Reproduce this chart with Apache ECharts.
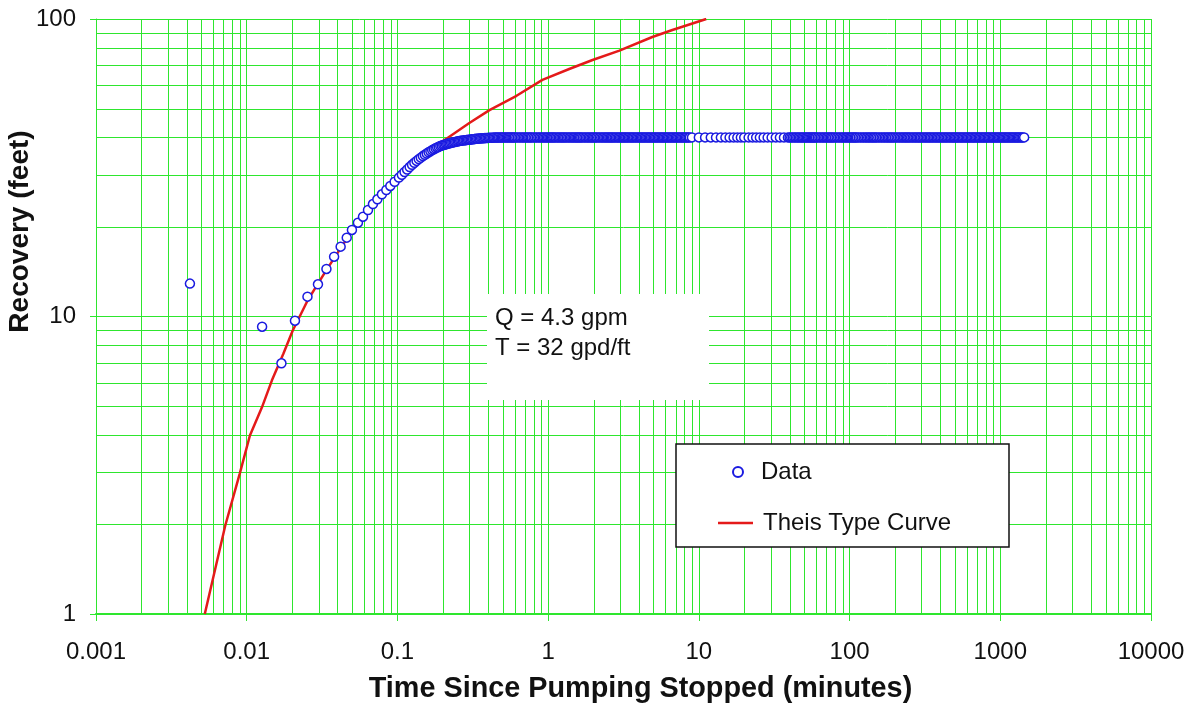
<!DOCTYPE html>
<html>
<head>
<meta charset="utf-8">
<script src="https://cdn.jsdelivr.net/npm/echarts@6/dist/echarts.min.js"></script>
<style>
  html, body { margin: 0; padding: 0; background: #ffffff; }
  #chart { width: 1201px; height: 708px; }
</style>
</head>
<body>
<div id="chart"></div>
<script>
// Axis tick labels (one per decade)
const xTickLabels = ['0.001', '0.01', '0.1', '1', '10', '100', '1000', '10000'];
const yTickLabels = ['1', '10', '100'];

// Recovery record: [minutes since pumping stopped, recovery (ft)]
const recoveryEarly = [
  [0.0042, 12.9], [0.01265, 9.24], [0.0170, 6.96], [0.0209, 9.68], [0.0253, 11.66],
  [0.0297, 12.83], [0.0338, 14.45], [0.0380, 15.89], [0.0420, 17.17], [0.0461, 18.41],
  [0.0499, 19.54], [0.0547, 20.67], [0.0591, 21.65], [0.0638, 22.8], [0.0688, 23.88],
  [0.0736, 24.77], [0.0789, 25.75], [0.0844, 26.62], [0.0897, 27.47], [0.0958, 28.38]
];
const recoveryRise = [
  [0.1023, 29.3], [0.107, 29.95], [0.1115, 30.6], [0.116, 31.2], [0.1205, 31.8],
  [0.125, 32.35], [0.1295, 32.85], [0.134, 33.35], [0.1385, 33.8], [0.143, 34.2],
  [0.1475, 34.6], [0.152, 34.95], [0.1565, 35.3], [0.161, 35.65], [0.1655, 35.95],
  [0.170, 36.25], [0.1745, 36.5], [0.179, 36.75], [0.1835, 37.0], [0.188, 37.2],
  [0.1925, 37.4], [0.197, 37.55], [0.2015, 37.7], [0.2055, 37.8], [0.21, 37.95],
  [0.214, 38.05], [0.218, 38.15], [0.222, 38.25], [0.227, 38.35], [0.2315, 38.45],
  [0.236, 38.55], [0.241, 38.6], [0.246, 38.7], [0.251, 38.8], [0.256, 38.85],
  [0.261, 38.95], [0.266, 39.0], [0.272, 39.05], [0.277, 39.1], [0.283, 39.15],
  [0.288, 39.2], [0.294, 39.25], [0.3, 39.3], [0.306, 39.35], [0.312, 39.4],
  [0.318, 39.45], [0.325, 39.5], [0.331, 39.55], [0.338, 39.58], [0.345, 39.62],
  [0.352, 39.66], [0.359, 39.7], [0.366, 39.73], [0.373, 39.76], [0.381, 39.79],
  [0.388, 39.82], [0.396, 39.84], [0.404, 39.86], [0.412, 39.88], [0.42, 39.9],
  [0.429, 39.92], [0.437, 39.94], [0.446, 39.95], [0.455, 39.97], [0.464, 39.98],
  [0.473, 39.99], [0.483, 40], [0.492, 40]
];
const recoveryPlateau = [
  [0.5,40],[0.51,40],[0.52,40],[0.53,40],[0.54,40],[0.55,40],[0.56,40],[0.57,40],[0.58,40],[0.59,40],
  [0.6,40],[0.615,40],[0.63,40],[0.645,40],[0.66,40],[0.675,40],[0.69,40],[0.705,40],[0.72,40],[0.735,40],
  [0.75,40],[0.765,40],[0.78,40],[0.8,40],[0.82,40],[0.84,40],[0.86,40],[0.88,40],[0.9,40],[0.92,40],
  [0.94,40],[0.96,40],[0.98,40],[1.0,40],[1.02,40],[1.04,40],[1.06,40],[1.08,40],[1.1,40],[1.125,40],
  [1.15,40],[1.175,40],[1.2,40],[1.225,40],[1.25,40],[1.275,40],[1.3,40],[1.33,40],[1.36,40],[1.39,40],
  [1.42,40],[1.45,40],[1.48,40],[1.51,40],[1.54,40],[1.57,40],[1.6,40],[1.63,40],[1.66,40],[1.7,40],
  [1.74,40],[1.78,40],[1.82,40],[1.86,40],[1.9,40],[1.94,40],[1.98,40],[2.02,40],[2.06,40],[2.1,40],
  [2.15,40],[2.2,40],[2.25,40],[2.3,40],[2.35,40],[2.4,40],[2.45,40],[2.5,40],[2.55,40],[2.6,40],
  [2.65,40],[2.7,40],[2.76,40],[2.82,40],[2.88,40],[2.94,40],[3.0,40],[3.06,40],[3.12,40],[3.18,40],
  [3.24,40],[3.3,40],[3.37,40],[3.44,40],[3.51,40],[3.58,40],[3.65,40],[3.72,40],[3.8,40],[3.88,40],
  [3.96,40],[4.04,40],[4.12,40],[4.2,40],[4.28,40],[4.37,40],[4.46,40],[4.55,40],[4.64,40],[4.73,40],
  [4.82,40],[4.92,40],[5.02,40],[5.12,40],[5.22,40],[5.33,40],[5.44,40],[5.55,40],[5.66,40],[5.77,40],
  [5.88,40],[6.0,40],[6.12,40],[6.24,40],[6.36,40],[6.49,40],[6.62,40],[6.75,40],[6.88,40],[7.02,40],
  [7.16,40],[7.3,40],[7.45,40],[7.6,40],[7.75,40],[7.9,40],[8.06,40],[8.22,40],[8.38,40],[8.55,40],
  [8.72,40]
];
const recoveryMinutely = [
  [9,40],[10,40],[11,40],[12,40],[13,40],[14,40],[15,40],[16,40],[17,40],[18,40],[19,40],[20,40],
  [21.4,40],[22.7,40],[24,40],[25.4,40],[26.9,40],[28.6,40],[30.4,40],[32.4,40],[34.5,40],[36.7,40],[39,40]
];
const recoveryTail = [
  [40,40],[41,40],[42,40],[43,40],[44,40],[45,40],[46,40],[47,40],[48,40],[49,40],
  [50,40],[51,40],[52,40],[53,40],[54,40],[55,40],[56,40],[57,40],[58,40],[59,40],
  [60,40],[61.5,40],[63,40],[64.5,40],[66,40],[67.5,40],[69,40],[70.5,40],[72,40],[73.5,40],
  [75,40],[76.5,40],[78,40],[80,40],[82,40],[84,40],[86,40],[88,40],[90,40],[92,40],
  [94,40],[96,40],[98,40],[100,40],[102,40],[104,40],[106,40],[108,40],[110,40],[112,40],
  [115,40],[118,40],[121,40],[124,40],[127,40],[130,40],[133,40],[136,40],[139,40],[142,40],
  [145,40],[148,40],[151,40],[155,40],[159,40],[163,40],[167,40],[171,40],[175,40],[179,40],
  [183,40],[187,40],[191,40],[195,40],[200,40],[205,40],[210,40],[215,40],[220,40],[225,40],
  [230,40],[235,40],[240,40],[245,40],[250,40],[256,40],[262,40],[268,40],[274,40],[280,40],
  [286,40],[292,40],[298,40],[305,40],[312,40],[319,40],[326,40],[333,40],[340,40],[347,40],
  [355,40],[363,40],[371,40],[379,40],[387,40],[395,40],[404,40],[413,40],[422,40],[431,40],
  [440,40],[450,40],[460,40],[470,40],[480,40],[490,40],[500,40],[510,40],[520,40],[531,40],
  [542,40],[553,40],[564,40],[576,40],[588,40],[600,40],[612,40],[624,40],[637,40],[650,40],
  [663,40],[676,40],[690,40],[704,40],[718,40],[732,40],[747,40],[762,40],[777,40],[792,40],
  [808,40],[824,40],[840,40],[857,40],[874,40],[891,40],[908,40],[926,40],[944,40],[962,40],
  [981,40],[1000,40],[1020,40],[1040,40],[1060,40],[1080,40],[1100,40],[1122,40],[1144,40],[1166,40],
  [1188,40],[1210,40],[1234,40],[1258,40],[1282,40],[1306,40],[1330,40],[1356,40],[1382,40],[1408,40],
  [1440,40]
];

// Matched Theis type curve: [minutes, recovery (ft)]
const theisCurve = [
  [0.00527, 1.0], [0.0072, 1.98], [0.009, 2.97], [0.0105, 3.98], [0.0126, 4.94],
  [0.0147, 6.1], [0.0175, 7.5], [0.0202, 8.97], [0.0253, 11.3], [0.034, 14.4],
  [0.05, 19.4], [0.07, 24.4], [0.1, 29.8], [0.15, 35.6], [0.215, 39.8],
  [0.3, 44.7], [0.408, 49.4], [0.617, 55.2], [0.916, 62.4], [1.38, 67.9],
  [1.97, 72.8], [2.97, 78.3], [4.91, 87.0], [6.67, 91.8], [11.2, 100]
];

// Annotation text
const annotationLines = ['Q = 4.3 gpm', 'T = 32 gpd/ft'];

const GRID_GREEN = '#2ee62e';
const FONT = '"Liberation Sans", Arial, sans-serif';

// Minor log gridline positions (2..9 within each decade)
const minorXValues = [];
for (let k = -3; k <= 3; k++) for (let m = 2; m <= 9; m++) minorXValues.push([m * Math.pow(10, k), 1]);
const minorYValues = [];
for (let k = 0; k <= 1; k++) for (let m = 2; m <= 9; m++) minorYValues.push([0.001, m * Math.pow(10, k)]);

const recoveryData = recoveryEarly.concat(recoveryRise, recoveryPlateau, recoveryMinutely, recoveryTail);

const crisp = v => Math.round(v) + 0.5;

const chart = echarts.init(document.getElementById('chart'), null, { renderer: 'canvas' });
chart.setOption({
  animation: false,
  backgroundColor: '#ffffff',
  textStyle: { fontFamily: FONT },
  grid: { left: 96, right: 50, top: 19, bottom: 94, containLabel: false, outerBoundsMode: 'none' },
  xAxis: {
    type: 'log', logBase: 10, min: 0.001, max: 10000,
    name: 'Time Since Pumping Stopped (minutes)',
    nameLocation: 'middle', nameGap: 61, nameMoveOverlap: false,
    nameTextStyle: { fontSize: 28.8, fontWeight: 'bold', color: '#111', fontFamily: FONT, padding: [0, 0, 0, 34] },
    axisLine: { show: true, onZero: false, lineStyle: { color: GRID_GREEN, width: 2 } },
    axisTick: { show: true, length: 7, lineStyle: { color: GRID_GREEN, width: 1 } },
    axisLabel: {
      margin: 26, fontSize: 24, color: '#111', fontFamily: FONT,
      formatter: v => xTickLabels[Math.round(Math.log10(v)) + 3]
    },
    splitLine: { show: true, lineStyle: { color: GRID_GREEN, width: 1 } }
  },
  yAxis: {
    type: 'log', logBase: 10, min: 1, max: 100,
    name: 'Recovery (feet)',
    nameLocation: 'middle', nameGap: 62, nameRotate: 90, nameMoveOverlap: false,
    nameTextStyle: { fontSize: 28, fontWeight: 'bold', color: '#111', fontFamily: FONT, padding: [0, 0, 0, 170] },
    axisLine: { show: true, onZero: false, lineStyle: { color: GRID_GREEN, width: 1 } },
    axisTick: { show: true, length: 6, lineStyle: { color: GRID_GREEN, width: 1 } },
    axisLabel: {
      margin: 20, fontSize: 24, color: '#111', fontFamily: FONT,
      formatter: v => yTickLabels[Math.round(Math.log10(v))]
    },
    splitLine: { show: true, lineStyle: { color: GRID_GREEN, width: 1 } }
  },
  legend: [
    {
      data: ['Data'], left: 732, top: 460, padding: 0,
      itemWidth: 10, itemHeight: 10, z: 10,
      textStyle: { fontSize: 24, color: '#111', fontFamily: FONT, padding: [0, 0, 0, 13] }
    },
    {
      data: [{ name: 'Theis Type Curve', icon: 'rect' }], left: 718, top: 511, padding: 0,
      itemWidth: 35, itemHeight: 2.5, z: 10,
      textStyle: { fontSize: 24, color: '#111', fontFamily: FONT, padding: [0, 0, 0, 5] }
    }
  ],
  graphic: [
    {
      type: 'rect', z: 5, silent: true,
      shape: { x: 676, y: 444, width: 333, height: 103 },
      style: { fill: '#ffffff', stroke: '#111111', lineWidth: 1.5 }
    },
    {
      type: 'rect', z: 5, silent: true,
      shape: { x: 487, y: 294, width: 222, height: 106 },
      style: { fill: '#ffffff', stroke: null }
    },
    {
      type: 'text', z: 6, silent: true, left: 495, top: 306,
      style: { text: annotationLines[0], fontSize: 24, fill: '#111', fontFamily: FONT }
    },
    {
      type: 'text', z: 6, silent: true, left: 495, top: 336,
      style: { text: annotationLines[1], fontSize: 24, fill: '#111', fontFamily: FONT }
    }
  ],
  series: [
    {
      name: 'minor-x', type: 'custom', silent: true, z: 1, clip: true,
      data: minorXValues, encode: { x: 0, y: 1 },
      renderItem: (params, api) => {
        const v = api.value(0);
        const p0 = api.coord([v, 1]);
        const p1 = api.coord([v, 100]);
        const x = crisp(p0[0]);
        return { type: 'line', shape: { x1: x, y1: p0[1], x2: x, y2: p1[1] },
                 style: { stroke: GRID_GREEN, lineWidth: 1 } };
      }
    },
    {
      name: 'minor-y', type: 'custom', silent: true, z: 1, clip: true,
      data: minorYValues, encode: { x: 0, y: 1 },
      renderItem: (params, api) => {
        const v = api.value(1);
        const p0 = api.coord([0.001, v]);
        const p1 = api.coord([10000, v]);
        const y = crisp(p0[1]);
        return { type: 'line', shape: { x1: p0[0], y1: y, x2: p1[0], y2: y },
                 style: { stroke: GRID_GREEN, lineWidth: 1 } };
      }
    },
    {
      name: 'Theis Type Curve', type: 'line', data: theisCurve, z: 3,
      showSymbol: false, symbol: 'none', smooth: false, clip: true,
      lineStyle: { color: '#e41a1a', width: 2.5 },
      itemStyle: { color: '#e41a1a' }
    },
    {
      name: 'Data', type: 'scatter', data: recoveryData, z: 4,
      symbol: 'circle', symbolSize: 9, clip: true,
      itemStyle: { color: '#ffffff', borderColor: '#1a1ae0', borderWidth: 1.5, opacity: 1 },
      large: false, progressive: 0
    }
  ]
});
</script>
</body>
</html>
